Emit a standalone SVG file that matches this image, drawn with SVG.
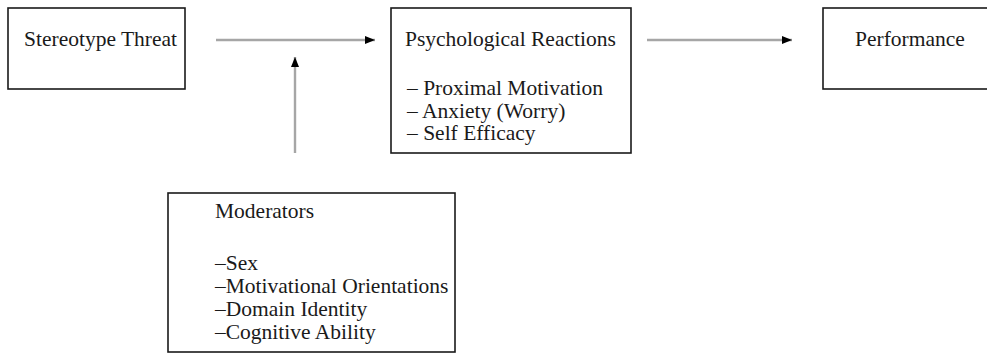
<svg xmlns="http://www.w3.org/2000/svg" width="987" height="354" viewBox="0 0 987 354">
<style>
.box{fill:#fff;stroke:#1a1a1a;stroke-width:1.6}
.t{font-family:"Liberation Serif","Times New Roman",serif;font-size:21.5px;fill:#1a1a1a}
.c{stroke:#a6a6a6;stroke-width:2.4;fill:none}
</style>
<defs>
<marker id="ah" viewBox="0 0 10 10" refX="10" refY="5" markerWidth="10" markerHeight="10" markerUnits="userSpaceOnUse" orient="auto">
<path d="M0,1 L10,5 L0,9 Z" fill="#000"/>
</marker>
</defs>
<rect width="987" height="354" fill="#fff"/>
<g id="connectors">
<line class="c" x1="216" y1="40" x2="375" y2="40" marker-end="url(#ah)"/>
<line class="c" x1="295" y1="153" x2="295" y2="57" marker-end="url(#ah)"/>
<line class="c" x1="647" y1="40" x2="792" y2="40" marker-end="url(#ah)"/>
</g>
<g id="stereotype-threat">
<rect class="box" x="8" y="8" width="177" height="81"/>
<text class="t" x="24" y="46">Stereotype Threat</text>
</g>
<g id="psychological-reactions">
<rect class="box" x="391" y="8" width="240" height="145"/>
<text class="t" x="405" y="46">Psychological Reactions</text>
<text class="t" x="407" y="95">– Proximal Motivation</text>
<text class="t" x="407" y="117.5">– Anxiety (Worry)</text>
<text class="t" x="407" y="140">– Self Efficacy</text>
</g>
<g id="performance">
<rect class="box" x="823" y="8" width="180" height="81"/>
<text class="t" x="855" y="46">Performance</text>
</g>
<g id="moderators">
<rect class="box" x="168" y="193" width="287" height="159"/>
<text class="t" x="215" y="218">Moderators</text>
<text class="t" x="215" y="270">–Sex</text>
<text class="t" x="215" y="293">–Motivational Orientations</text>
<text class="t" x="215" y="316">–Domain Identity</text>
<text class="t" x="215" y="339">–Cognitive Ability</text>
</g>
</svg>
